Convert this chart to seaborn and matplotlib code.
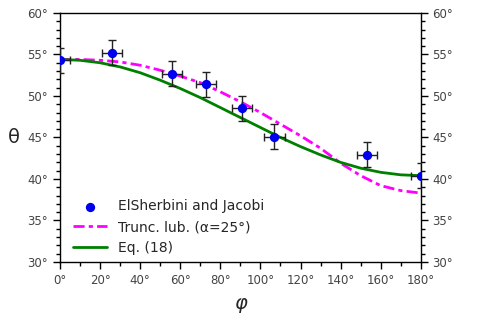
import numpy as np
import pandas as pd
import matplotlib
matplotlib.use("Agg")
import matplotlib.pyplot as plt
from matplotlib.ticker import MultipleLocator, FuncFormatter
import seaborn as sns

# measured points (ElSherbini and Jacobi)
phi_pts = [0, 26, 56, 73, 91, 107, 153, 180]
theta_pts = [54.3, 55.2, 52.7, 51.4, 48.5, 45.1, 42.9, 40.4]
phi_err = [5, 5, 5, 5, 5, 5, 5, 5]
theta_err = [1.5, 1.5, 1.5, 1.5, 1.5, 1.5, 1.5, 1.5]

# curves
phi_curve = [0, 10, 20, 30, 40, 50, 60, 70, 80, 90, 100, 110, 120, 130, 140, 150, 160, 170, 180]
theta_trunc = [54.4, 54.4, 54.3, 54.1, 53.7, 53.1, 52.4, 51.6, 50.5, 49.3,
               48.0, 46.6, 45.2, 43.7, 41.9, 40.4, 39.2, 38.6, 38.3]
theta_eq18 = [54.4, 54.3, 54.0, 53.5, 52.8, 51.9, 50.9, 49.8, 48.6, 47.4,
              46.2, 45.0, 43.9, 42.9, 42.0, 41.3, 40.8, 40.5, 40.4]

sns.set_style("ticks")
plt.rcParams["font.family"] = ["DejaVu Sans"]

fig = plt.figure(figsize=(4.98, 3.24), dpi=100)
ax = fig.add_axes([0.1205, 0.1914, 0.7245, 0.7686])

df_pts = pd.DataFrame({"phi": phi_pts, "theta": theta_pts})
df_curve = pd.DataFrame({"phi": phi_curve, "trunc": theta_trunc, "eq18": theta_eq18})

ax.errorbar(phi_pts, theta_pts, xerr=phi_err, yerr=theta_err, fmt="none",
            ecolor="#222222", elinewidth=1, capsize=3, capthick=1, zorder=3)
sns.scatterplot(data=df_pts, x="phi", y="theta", ax=ax, color="#0000ee", s=45,
                edgecolor="#0000ee", linewidth=0, zorder=4, label="ElSherbini and Jacobi")
sns.lineplot(data=df_curve, x="phi", y="trunc", ax=ax, color="magenta", linewidth=2,
             dashes=False, label="Trunc. lub. (\u03b1=25\u00b0)", zorder=2)
ax.lines[-1].set_dashes((4, 1.5, 1.5, 1.5))
sns.lineplot(data=df_curve, x="phi", y="eq18", ax=ax, color="green", linewidth=2,
             label="Eq. (18)", zorder=2)

ax.set_xlim(0, 180)
ax.set_ylim(30, 60)
ax.xaxis.set_major_locator(MultipleLocator(20))
ax.xaxis.set_minor_locator(MultipleLocator(10))
ax.yaxis.set_major_locator(MultipleLocator(5))
ax.yaxis.set_minor_locator(MultipleLocator(1))
deg = FuncFormatter(lambda v, p: f"{v:.0f}\u00b0")
ax.xaxis.set_major_formatter(deg)
ax.yaxis.set_major_formatter(deg)
ax.tick_params(which="both", direction="out", colors="black", labelcolor="#444444",
               labelsize=8.5, left=True, right=True, labelright=True, top=False, width=1)
ax.tick_params(which="major", length=5)
ax.tick_params(which="minor", length=3)
for s in ax.spines.values():
    s.set_color("black")
    s.set_linewidth(1)

ax.set_xlabel("\u03c6", fontsize=14, style="italic", labelpad=5)
ax.set_ylabel("\u03b8", fontsize=14, rotation=0, labelpad=10, va="center")

ax.legend(loc="lower left", bbox_to_anchor=(0.01, -0.012), frameon=False, fontsize=10,
          handlelength=2.4, labelspacing=0.5, borderpad=0.2)

fig.savefig("out.png", dpi=100)
